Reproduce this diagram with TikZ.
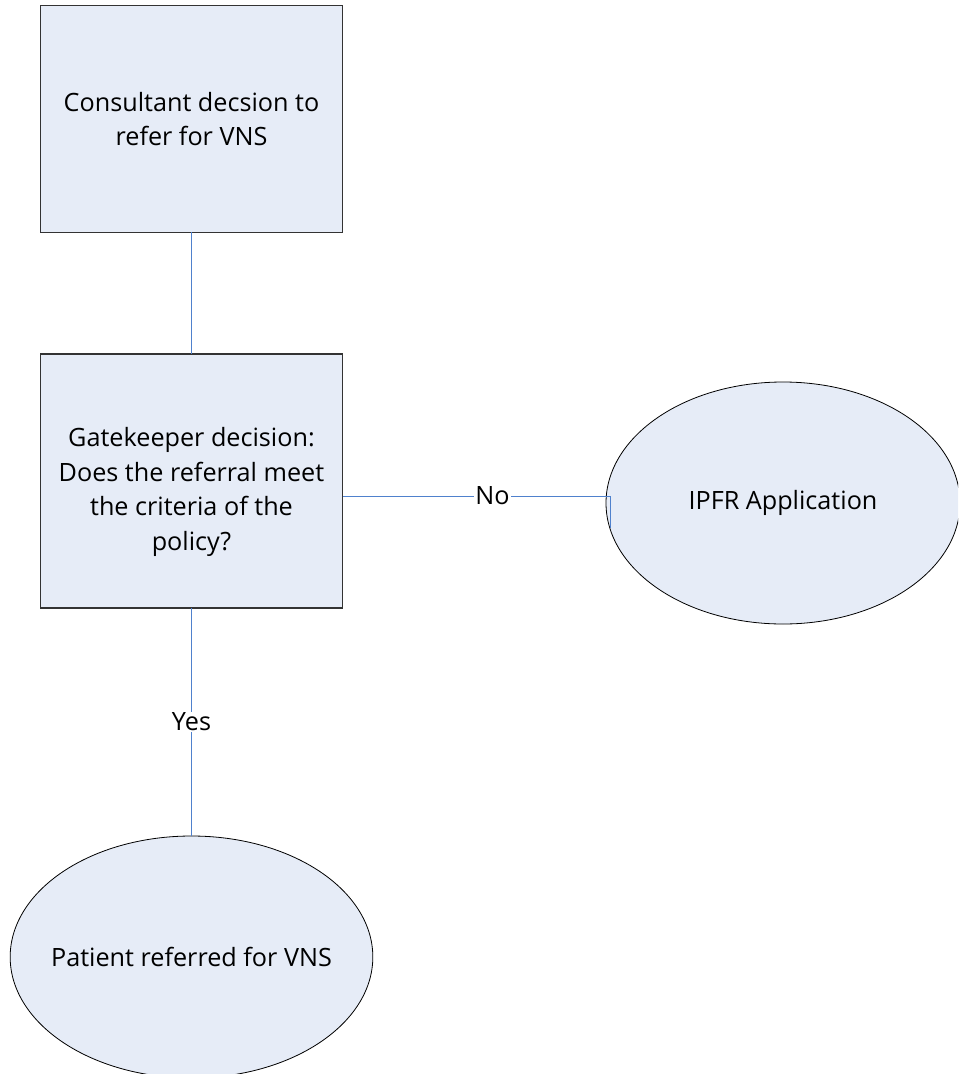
\documentclass[tikz,border=0pt]{standalone}
\usepackage{fontspec}
\setmainfont{Open Sans}
\usetikzlibrary{shapes.geometric}
\definecolor{boxfill}{HTML}{E6ECF7}
\definecolor{linkblue}{HTML}{4F81CD}
\tikzset{
  stagebox/.style={draw=black!80, fill=boxfill, line width=0.8pt, minimum width=227pt, align=center, inner sep=0pt, outer sep=0pt, font=\fontsize{18.9}{26}\selectfont},
  outcome/.style={ellipse, draw=black, fill=boxfill, line width=0.6pt, inner xsep=-20pt, inner ysep=0pt, outer sep=0pt, font=\fontsize{18.9}{26}\selectfont},
  link/.style={draw=linkblue, line width=0.75pt},
  linklabel/.style={fill=white, inner sep=1pt, font=\fontsize{18.9}{22}\selectfont}
}

\begin{document}
\begin{tikzpicture}[x=0.75pt, y=-0.75pt]
\useasboundingbox (0,0) rectangle (958,1074);
\clip (0,0) rectangle (958,1074);

\node[stagebox, minimum height=170pt] (consultant) at (191.5,119) {Consultant decsion to\\refer for VNS};
\node[stagebox, minimum height=190.5pt] (gatekeeper) at (191.5,481)
  {\raisebox{-8pt}[\height][\depth]{\begin{tabular}{@{}c@{}}Gatekeeper decision:\\Does the referral meet\\the criteria of the\\policy?\end{tabular}}};
\node[outcome, minimum width=265.5pt, minimum height=181.5pt] (ipfr) at (783,503) {IPFR Application};
\node[outcome, minimum width=272pt, minimum height=181.5pt] (patient) at (191.5,957) {Patient referred for VNS};

\coordinate (noend) at (610,528);

\draw[link] (consultant) -- (gatekeeper);
\draw[link] ([yshift=-11.25pt]gatekeeper.east) -| (noend) node[linklabel, pos=0.28] {No};
\draw[link] (gatekeeper) -- (patient) node[linklabel, midway] {Yes};

\end{tikzpicture}
\end{document}
